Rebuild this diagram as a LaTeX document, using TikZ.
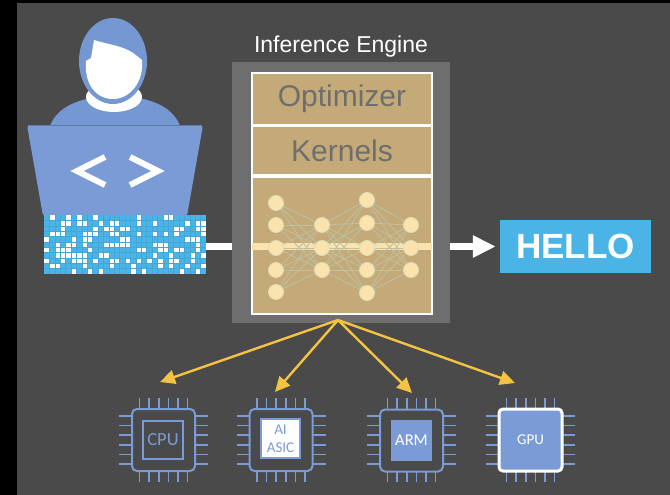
\documentclass[tikz,border=0pt]{standalone}
\usepackage{fontspec}
\setmainfont{Liberation Sans}
\newfontfamily\chipfont{Carlito}
\usetikzlibrary{arrows.meta}

\definecolor{bg}{HTML}{4A4A4A}
\definecolor{person}{HTML}{7598D2}
\definecolor{laptop}{HTML}{7B9BD6}
\definecolor{noisecyan}{HTML}{4BB4E6}
\definecolor{gridline}{HTML}{44A6D6}
\definecolor{enginegray}{HTML}{6E6E6E}
\definecolor{tan}{HTML}{C4AA78}
\definecolor{tantext}{HTML}{6E6E6E}
\definecolor{neuron}{HTML}{FBE3AE}
\definecolor{neuronrim}{HTML}{E0DDB8}
\definecolor{synapse}{HTML}{BEC1A2}
\definecolor{fanyellow}{HTML}{F5C343}
\definecolor{chipblue}{HTML}{7B9BD6}

\begin{document}
\begin{tikzpicture}[x=1pt,y=-1pt,
  layerbox/.style={draw=white, line width=1.6pt, fill=tan, minimum width=180pt, inner sep=0pt},
  boxtext/.style={text=tantext, font=\fontsize{30}{34}\selectfont},
  unit/.style={circle, fill=neuron, draw=neuronrim, line width=0.9pt, minimum size=15pt, inner sep=0pt},
  synapse/.style={draw=synapse, line width=0.85pt},
  flow/.style={draw=white, line width=6.5pt, -{Triangle[length=23pt,width=21pt]}, shorten >=4pt},
  fan/.style={draw=fanyellow, line width=2.4pt, -{Triangle[length=15pt,width=14pt]}},
  chipbody/.style={draw=chipblue, line width=2pt, rounded corners=5pt, minimum width=63pt, minimum height=62pt, inner sep=0pt},
  pin/.style={draw=chipblue, line width=1.6pt},
  chiplabel/.style={font=\chipfont\fontsize{16}{17}\selectfont, inner sep=0pt}
]
\useasboundingbox (0,0) rectangle (670,495);
\fill[black] (0,0) rectangle (670,495);
\fill[bg] (17,3) rectangle (670,495);

% ---------- developer at a laptop ----------
\fill[person] (50,126) .. controls (58,104) and (86,96) .. (115,96)
              .. controls (144,96) and (172,104) .. (180,126) -- cycle;
\fill[white] (114,97) ellipse [x radius=28, y radius=15];
\fill[person] (113,61) ellipse [x radius=34, y radius=43];
\fill[white] (86,61) -- (91,58) -- (94,40) .. controls (110,45) and (126,46) .. (137,56)
             -- (142,60) .. controls (144,82) and (130,99) .. (113,99)
             .. controls (96,99) and (84,84) .. (86,61) -- cycle;
\fill[laptop, rounded corners=3pt] (27,125) -- (203,125) -- (187,216) -- (43,216) -- cycle;
\draw[person!80!black, line width=0.6pt] (30,125.5) -- (200,125.5);
\draw[white, line width=6pt, miter limit=10] (105,157) -- (77,171) -- (105,185);
\draw[white, line width=6pt, miter limit=10] (130,157) -- (158,171) -- (130,185);

% ---------- noisy input pattern ----------
\node[fill=noisecyan, minimum width=162pt, minimum height=59pt, inner sep=0pt] (noise) at (125,244.5) {};
\pgfmathsetseed{11}
\foreach \i in {0,...,29}{
  \foreach \j in {0,...,10}{
    \pgfmathtruncatemacro\on{rnd<0.32}
    \ifnum\on=1
      \fill[white] ({44+5.4*\i},{215+5.364*\j}) rectangle ++(5.4,5.364);
    \fi
  }
}
\foreach \i in {1,...,29} \draw[gridline, line width=0.4pt] ({44+5.4*\i},215) -- ++(0,59);
\foreach \j in {1,...,10} \draw[gridline, line width=0.4pt] (44,{215+5.364*\j}) -- ++(162,0);

% ---------- output ----------
\node[fill=noisecyan, minimum width=151pt, minimum height=53pt, inner sep=0pt,
      text=white, font=\bfseries\fontsize{35}{38}\selectfont] (hello) at (575.5,246.5) {HELLO};
\draw[flow] (noise.east |- hello.west) -- (hello.west);

% ---------- inference engine ----------
\node[fill=enginegray, minimum width=218pt, minimum height=261pt, inner sep=0pt] (engine) at (341,192.5) {};
\node[text=white, font=\fontsize{23}{26}\selectfont] (title) at (341,47) {Inference Engine};
\node[layerbox, minimum height=52pt] (optimizer) at (342,99) {};
\node[boxtext] at (optimizer) {Optimizer};
\node[layerbox, minimum height=49pt] (kernels) at (342,150.5) {};
\node[boxtext] at (kernels) {Kernels};
\node[layerbox, minimum height=137pt] (nn) at (342,245.5) {};
\draw[draw=neuron, line width=6.5pt] ([xshift=1pt]nn.west |- hello.west) -- ([xshift=-1pt]nn.east |- hello.west);

% neural network inside the engine
\foreach \k/\y in {1/203,2/225,3/248,4/270,5/292} \coordinate (a\k) at (276,\y);
\foreach \k/\y in {1/225,2/248,3/270} \coordinate (b\k) at (322,\y);
\foreach \k/\y in {1/200,2/223,3/248,4/270,5/293} \coordinate (c\k) at (367,\y);
\foreach \k/\y in {1/225,2/248,3/270} \coordinate (d\k) at (411,\y);
\foreach \p in {1,...,5} \foreach \q in {1,2,3} {
  \draw[synapse] (a\p) -- (b\q);
  \draw[synapse] (c\p) -- (b\q);
  \draw[synapse] (c\p) -- (d\q);
}
\foreach \k in {1,...,5} {\node[unit] (ua\k) at (a\k) {}; \node[unit] (uc\k) at (c\k) {};}
\foreach \k in {1,2,3} {\node[unit] (ub\k) at (b\k) {}; \node[unit] (ud\k) at (d\k) {};}

% ---------- hardware targets ----------
\foreach \cx in {163.5,281,411.5,530.5}{
  \foreach \o in {-24,-14.4,-4.8,4.8,14.4,24}{
    \draw[pin] (\cx+\o,398) -- (\cx+\o,410);
    \draw[pin] (\cx+\o,470) -- (\cx+\o,482);
    \draw[pin] (\cx-44.5,440+\o) -- (\cx-31,440+\o);
    \draw[pin] (\cx+31,440+\o) -- (\cx+44.5,440+\o);
  }
}
\node[chipbody, fill=bg] (cpu) at (163.5,440) {};
\node[draw=chipblue, line width=2pt, minimum width=40pt, minimum height=38pt, inner sep=0pt,
      text=chipblue, font=\chipfont\fontsize{18.5}{19}\selectfont] (cpucore) at (163,440) {CPU};
\node[chipbody, fill=bg] (asic) at (281,440) {};
\node[draw=chipblue, fill=white, line width=1.5pt, minimum width=39pt, minimum height=39pt, inner sep=0pt,
      text=chipblue, align=center, font=\chipfont\fontsize{15}{18}\selectfont] (asiccore) at (280.5,438.5) {AI\\ASIC};
\node[chipbody, fill=bg] (arm) at (411.5,440.5) {};
\node[fill=chipblue, minimum width=41pt, minimum height=41pt, inner sep=0pt,
      text=white, font=\chipfont\fontsize{16.5}{18}\selectfont] (armcore) at (411.5,440.5) {ARM};
\node[chipbody, draw=white, line width=3pt, fill=chipblue, rounded corners=4pt,
      text=white, font=\chipfont\fontsize{15}{18}\selectfont] (gpu) at (530.5,440) {GPU};

% ---------- deployment arrows ----------
\coordinate (fanout) at (338,320);
\coordinate (tocpu) at (160,382);
\coordinate (toasic) at (275,392);
\coordinate (toarm) at (412,393);
\coordinate (togpu) at (515,383);
\draw[fan] (fanout) -- (tocpu);
\draw[fan] (fanout) -- (toasic);
\draw[fan] (fanout) -- (toarm);
\draw[fan] (fanout) -- (togpu);
\end{tikzpicture}
\end{document}
